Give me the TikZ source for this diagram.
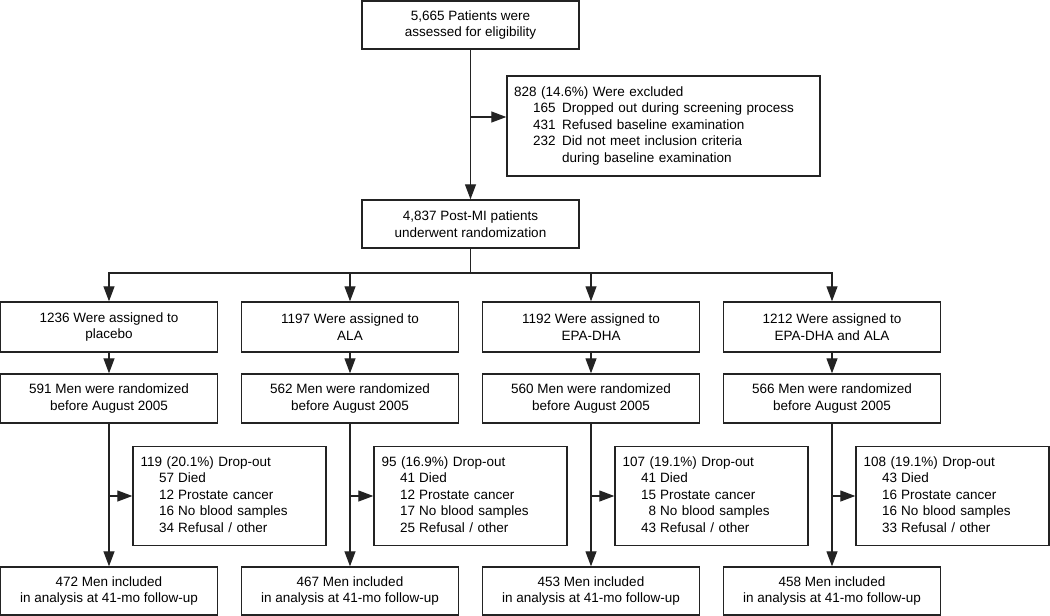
\documentclass[tikz,border=0pt]{standalone}
\usepackage{fontspec}
\setmainfont{Liberation Sans}
\usetikzlibrary{arrows.meta}
\definecolor{lc}{RGB}{35,35,35}
\newcommand{\fs}{\fontsize{13.5}{16.5}\selectfont}
\newcommand{\drop}[5]{\begin{tabular}{@{\hspace{18.5pt}}r@{\hspace{4pt}}l}\multicolumn{2}{@{}l}{#1 Drop-out}\\#2 & Died\\#3 & Prostate cancer\\#4 & No blood samples\\#5 & Refusal / other\end{tabular}}
\begin{document}
\begin{tikzpicture}[x=1pt,y=-1pt,
  box/.style={draw=lc, line width=1.4pt, align=center, inner sep=0pt, font=\fs},
  colbox/.style={box, minimum width=217pt},
  dropbox/.style={box, align=left, text width=178pt, inner xsep=7.5pt, minimum height=99pt},
  conn/.style={draw=lc, line width=1.25pt},
  arr/.style={conn, -{Triangle[length=15pt,width=11pt]}}]
\path[fill=white] (0,0) rectangle (1050,616);
\useasboundingbox (0,0) rectangle (1050,616);

\node[box, minimum width=217pt, minimum height=48pt] (top) at (470.5,25) {5,665 Patients were\\assessed for eligibility};
\node[box, align=left, text width=299pt, inner xsep=7pt, minimum height=100pt] (excl) at (663.5,126)
 {\begin{tabular}{@{\hspace{19pt}}r@{\hspace{6.5pt}}l}\multicolumn{2}{@{}l}{828 (14.6\%) Were excluded}\\165 & Dropped out during screening process\\431 & Refused baseline examination\\232 & Did not meet inclusion criteria\\ & during baseline examination\end{tabular}};
\node[box, minimum width=217pt, minimum height=48pt] (rand) at (470.5,224) {4,837 Post-MI patients\\underwent randomization};

\coordinate (ex) at (470.5,117);
\coordinate (bus) at (470.5,273);

% row 1
\node[colbox, minimum height=50pt] (a1) at (109,327) {1236 Were assigned to\\placebo};
\node[colbox, minimum height=50pt] (a2) at (350,327) {1197 Were assigned to\\ALA};
\node[colbox, minimum height=50pt] (a3) at (591,327) {1192 Were assigned to\\EPA-DHA};
\node[colbox, minimum height=50pt] (a4) at (832,327) {1212 Were assigned to\\EPA-DHA and ALA};
% row 2
\node[colbox, minimum height=49pt] (b1) at (109,398.5) {591 Men were randomized\\before August 2005};
\node[colbox, minimum height=49pt] (b2) at (350,398.5) {562 Men were randomized\\before August 2005};
\node[colbox, minimum height=49pt] (b3) at (591,398.5) {560 Men were randomized\\before August 2005};
\node[colbox, minimum height=49pt] (b4) at (832,398.5) {566 Men were randomized\\before August 2005};
% drop-out
\node[dropbox] (d1) at (229.5,496) {\drop{119 (20.1\%)}{57}{12}{16}{34}};
\node[dropbox] (d2) at (470.5,496) {\drop{95 (16.9\%)}{41}{12}{17}{25}};
\node[dropbox] (d3) at (711.5,496) {\drop{107 (19.1\%)}{41}{15}{8}{43}};
\node[dropbox] (d4) at (952.5,496) {\drop{108 (19.1\%)}{43}{16}{16}{33}};
% final
\node[colbox, minimum height=48pt] (c1) at (109,591) {472 Men included\\in analysis at 41-mo follow-up};
\node[colbox, minimum height=48pt] (c2) at (350,591) {467 Men included\\in analysis at 41-mo follow-up};
\node[colbox, minimum height=48pt] (c3) at (591,591) {453 Men included\\in analysis at 41-mo follow-up};
\node[colbox, minimum height=48pt] (c4) at (832,591) {458 Men included\\in analysis at 41-mo follow-up};

% connectors
\draw[arr] (top) -- (rand);
\draw[arr] (ex) -- (ex -| excl.west);
\draw[conn] (rand) -- (bus);
\foreach \i in {1,2,3,4} {
  \draw[arr] (bus) -| (a\i.north);
  \draw[arr] (a\i) -- (b\i);
  \draw[arr] (b\i) -- (c\i);
  \draw[arr] (b\i.south |- d\i.west) -- (d\i.west);
}
\end{tikzpicture}
\end{document}
